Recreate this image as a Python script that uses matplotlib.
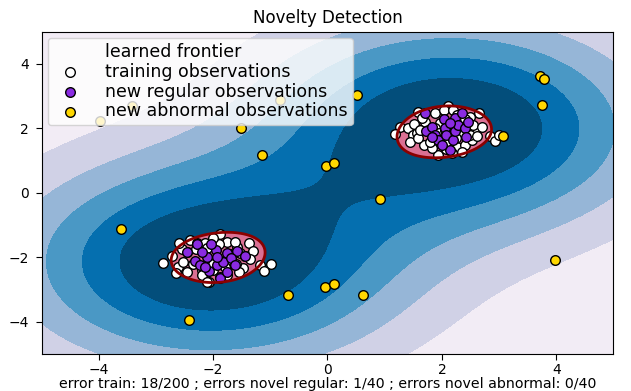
import numpy as np
import matplotlib
matplotlib.use("Agg")
import matplotlib.pyplot as plt
from matplotlib.lines import Line2D

# training observations: one cluster near (2, 2), one near (-2, -2)
train_x = [1.27, 1.18, 2.11, 2.65, 2.84, 2.93, 1.94, 1.59, 1.88, 2.03,
           2.20, 2.26, 2.49, 1.41, 1.50, 1.44, 1.56, 1.68, 1.82, 2.08,
           2.26, 2.40, 2.52, 2.58, 1.70, 1.97, 2.17, 2.32, 1.88, 1.59,
           1.79, 2.35, 2.11, 2.49, 1.65, 2.55, 2.35, 2.17, 3.00, 1.95,
           2.25, 1.75, 2.40, 1.85, 2.05, 2.62, 1.52, 2.70, 1.62,
           -2.87, -2.72, -1.88, -1.38, -1.18, -0.99, -1.11, -2.08, -1.76, -2.61,
           -2.52, -2.40, -1.47, -2.29, -2.14, -1.76, -1.59, -2.46, -2.20, -2.00,
           -1.88, -1.68, -1.53, -2.30, -2.10, -1.70, -2.35, -1.60, -1.90, -2.55,
           -1.45, -2.00, -1.80, -2.20, -1.55, -2.65, -1.30, -2.11, -1.62, -2.45,
           -1.35, -2.00, -2.60]
train_y = [2.05, 1.82, 2.71, 2.49, 1.77, 1.61, 1.17, 2.52, 2.47, 2.57,
           2.57, 2.42, 2.36, 2.00, 1.80, 1.59, 1.85, 1.48, 1.38, 1.36,
           1.43, 1.48, 1.64, 1.90, 2.21, 2.16, 2.11, 2.16, 2.00, 1.69,
           1.59, 1.85, 1.59, 1.80, 2.31, 2.11, 1.28, 1.23, 1.79, 1.85,
           1.70, 1.95, 2.30, 1.75, 1.95, 1.75, 2.15, 2.05, 1.95,
           -2.19, -1.96, -1.28, -1.57, -2.24, -2.21, -2.42, -2.76, -2.55, -2.29,
           -2.14, -1.47, -2.35, -1.57, -1.55, -1.52, -1.67, -1.83, -2.40, -2.40,
           -2.61, -2.09, -1.88, -1.75, -1.70, -1.90, -2.20, -2.20, -1.60, -1.75,
           -1.95, -2.20, -2.30, -2.55, -2.45, -2.50, -1.80, -2.78, -1.52, -2.45,
           -2.05, -1.40, -1.55]

# new regular observations
regular_x = [1.70, 1.73, 1.82, 1.88, 1.94, 2.03, 2.05, 2.08, 2.14, 2.20,
             2.23, 2.23, 2.29, 2.40, 2.43, 2.46, 2.35, 2.00, 2.14, 1.82,
             -2.28, -1.95, -1.75, -1.58, -2.31, -2.23, -2.08, -1.94, -1.82, -1.68,
             -2.11, -1.94, -1.88, -2.14, -1.62, -2.03, -1.45, -2.45, -1.75, -2.20]
regular_y = [2.47, 1.92, 2.05, 1.80, 1.64, 2.29, 2.02, 1.80, 1.33, 1.64,
             2.31, 1.92, 2.10, 2.00, 1.74, 2.21, 2.47, 1.48, 2.16, 1.74,
             -1.58, -1.78, -1.88, -1.80, -2.13, -2.23, -2.44, -2.24, -2.14, -2.03,
             -1.99, -1.99, -2.65, -2.29, -2.24, -1.60, -1.95, -1.85, -2.45, -1.85]

# new abnormal observations
abnormal_x = [-3.98, -3.42, -1.51, -1.15, -0.83, 0.52, -0.03, 0.11, 0.92, -3.61,
              -0.69, -0.04, 0.11, 0.62, -2.42, 3.98, 3.71, 3.78, 3.75, 3.07]
abnormal_y = [2.23, 2.70, 2.01, 1.17, 2.88, 3.04, 0.83, 0.93, -0.19, -1.12,
              -3.16, -2.94, -2.82, -3.16, -3.95, -2.09, 3.63, 3.53, 2.73, 1.76]

legend_labels = ["learned frontier", "training observations",
                 "new regular observations", "new abnormal observations"]
n_error_train, n_error_test, n_error_outliers = 18, 1, 0

gamma = 0.1
nu = 0.13
train = np.column_stack([train_x, train_y])


def rbf(a, b):
    d2 = ((a[:, None, :] - b[None, :, :]) ** 2).sum(-1)
    return np.exp(-gamma * d2)


def project_capped_simplex(v, cap):
    # alpha in [0, cap] with sum(alpha) == 1
    lo, hi = v.min() - cap, v.max()
    for _ in range(60):
        tau = 0.5 * (lo + hi)
        if np.clip(v - tau, 0, cap).sum() > 1:
            lo = tau
        else:
            hi = tau
    return np.clip(v - tau, 0, cap)


def fit_one_class_svm(points, n_iter=4000):
    # dual of the one-class SVM, solved with accelerated projected gradient
    n = len(points)
    K = rbf(points, points)
    cap = 1.0 / (nu * n)
    step = 1.0 / np.linalg.eigvalsh(K).max()
    alpha = np.full(n, 1.0 / n)
    z, t = alpha.copy(), 1.0
    for _ in range(n_iter):
        new_alpha = project_capped_simplex(z - step * (K @ z), cap)
        t_next = 0.5 * (1 + np.sqrt(1 + 4 * t * t))
        z = new_alpha + (t - 1) / t_next * (new_alpha - alpha)
        alpha, t = new_alpha, t_next
    g = K @ alpha
    free = (alpha > 1e-5 * cap) & (alpha < cap * (1 - 1e-5))
    rho = g[free].mean() if free.any() else np.quantile(g, nu)
    return alpha, rho


alpha, rho = fit_one_class_svm(train)

xx, yy = np.meshgrid(np.linspace(-5, 5, 500), np.linspace(-5, 5, 500))
grid = np.column_stack([xx.ravel(), yy.ravel()])
Z = np.zeros(len(grid))
for i in range(0, len(grid), 25000):
    Z[i:i + 25000] = rbf(grid[i:i + 25000], train) @ alpha - rho
Z = Z.reshape(xx.shape)

fig = plt.figure(figsize=(6.31, 3.91), dpi=100)
ax = fig.add_axes([0.0658, 0.0951, 0.9064, 0.8236])
ax.set_title("Novelty Detection", fontsize=12)
ax.contourf(xx, yy, Z, levels=np.linspace(Z.min(), 0, 7), cmap=plt.cm.PuBu)
ax.contour(xx, yy, Z, levels=[0], linewidths=2, colors="darkred")
ax.contourf(xx, yy, Z, levels=[0, Z.max()], colors="palevioletred")

s = 48
b1 = ax.scatter(train_x, train_y, c="white", s=s, edgecolors="k")
b2 = ax.scatter(regular_x, regular_y, c="blueviolet", s=s, edgecolors="k")
c = ax.scatter(abnormal_x, abnormal_y, c="gold", s=s, edgecolors="k")

ax.set_xlim(-5, 5)
ax.set_ylim(-5, 5)
ax.set_xticks([-4, -2, 0, 2, 4])
ax.set_yticks([-4, -2, 0, 2, 4])
ax.tick_params(labelsize=10, length=4.5)
ax.tick_params(axis="x", pad=2)
ax.tick_params(axis="y", pad=4.5)

frontier = Line2D([], [], linestyle="none")
ax.legend([frontier, b1, b2, c], legend_labels, loc="upper left",
          fontsize=12.5, labelspacing=0.1, borderpad=0.3, borderaxespad=0.35,
          handletextpad=1.0)
ax.set_xlabel(
    "error train: %d/200 ; errors novel regular: %d/40 ; errors novel abnormal: %d/40"
    % (n_error_train, n_error_test, n_error_outliers), fontsize=10.2)
ax.xaxis.set_label_coords(0.5, -0.073)

fig.savefig("out.png", dpi=100)
